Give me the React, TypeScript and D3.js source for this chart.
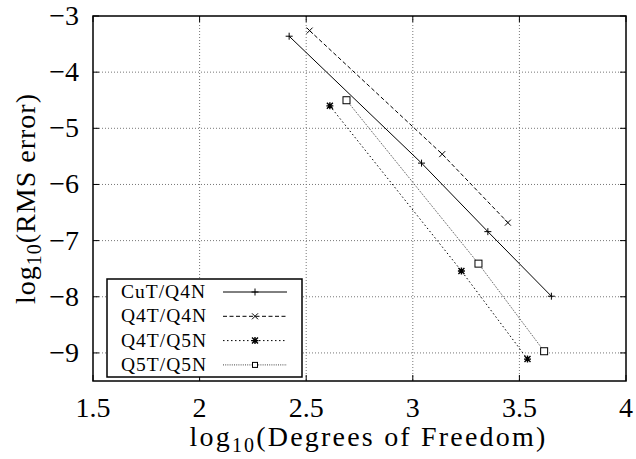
import React from "react";
import * as d3 from "d3";

// series: log10(DOF) vs log10(RMS error)
const seriesNames = ["CuT/Q4N", "Q4T/Q4N", "Q4T/Q5N", "Q5T/Q5N"];
const dofCuTQ4N = [2.42, 3.041, 3.352, 3.65];
const errCuTQ4N = [-3.36, -5.62, -6.84, -7.99];
const dofQ4TQ4N = [2.516, 3.138, 3.446];
const errQ4TQ4N = [-3.26, -5.46, -6.68];
const dofQ4TQ5N = [2.611, 3.228, 3.538];
const errQ4TQ5N = [-4.6, -7.54, -9.11];
const dofQ5TQ5N = [2.689, 3.308, 3.616];
const errQ5TQ5N = [-4.5, -7.41, -8.97];

const xTicks = [1.5, 2, 2.5, 3, 3.5, 4];
const yTicks = [-3, -4, -5, -6, -7, -8, -9];

const W = 636;
const H = 459;
const margin = { top: 16, right: 10, bottom: 78, left: 93 };
const FONT = "Liberation Serif, DejaVu Serif, serif";

type Pt = { x: number; y: number };
const zip = (xs: number[], ys: number[]): Pt[] => xs.map((x, i) => ({ x, y: ys[i] }));

const series = [
  { name: seriesNames[0], pts: zip(dofCuTQ4N, errCuTQ4N), dash: "none", color: "#000", marker: "plus" },
  { name: seriesNames[1], pts: zip(dofQ4TQ4N, errQ4TQ4N), dash: "4,2.5", color: "#000", marker: "cross" },
  { name: seriesNames[2], pts: zip(dofQ4TQ5N, errQ4TQ5N), dash: "1.5,2.5", color: "#000", marker: "star" },
  { name: seriesNames[3], pts: zip(dofQ5TQ5N, errQ5TQ5N), dash: "1,1.2", color: "#444", marker: "square" },
];

function Marker({ kind, x, y, sq = 7 }: { kind: string; x: number; y: number; sq?: number }) {
  const s = 3.5;
  const c = 3;
  if (kind === "plus")
    return <path d={`M${x - s},${y}H${x + s}M${x},${y - s}V${y + s}`} stroke="#000" strokeWidth={1} />;
  if (kind === "cross")
    return <path d={`M${x - c},${y - c}L${x + c},${y + c}M${x - c},${y + c}L${x + c},${y - c}`} stroke="#000" strokeWidth={1} />;
  if (kind === "star")
    return (
      <path
        d={`M${x - c},${y - c}L${x + c},${y + c}M${x - c},${y + c}L${x + c},${y - c}M${x - s},${y}H${x + s}M${x},${y - s}V${y + s}`}
        stroke="#000"
        strokeWidth={1.4}
      />
    );
  return <rect x={x - sq / 2} y={y - sq / 2} width={sq} height={sq} fill="#fff" stroke="#000" strokeWidth={1} />;
}

export default function App() {
  const x = d3.scaleLinear().domain([1.5, 4]).range([margin.left, W - margin.right]);
  const y = d3.scaleLinear().domain([-9.5, -3]).range([H - margin.bottom, margin.top]);
  const [x0, x1] = x.range();
  const [y0, y1] = y.range();

  const line = d3
    .line<Pt>()
    .x((d) => x(d.x))
    .y((d) => y(d.y));

  // legend placement
  const lg = { left: 107, top: 279, width: 195, height: 98 };
  const rowY = (i: number) => 292 + i * 24.3;
  const txt = { fontFamily: FONT };

  return (
    <svg width={W} height={H} style={{ position: "absolute", left: 0, top: 0, background: "#fff" }}>
      {/* grid */}
      <g stroke="#777" strokeWidth={1} strokeDasharray="1,2">
        {xTicks.slice(1, -1).map((t) => (
          <line key={"gx" + t} x1={x(t)} x2={x(t)} y1={y1} y2={y0} />
        ))}
        {yTicks.slice(1).map((t) => (
          <line key={"gy" + t} x1={x0} x2={x1} y1={y(t)} y2={y(t)} />
        ))}
      </g>

      {/* ticks */}
      <g stroke="#000" strokeWidth={1}>
        {xTicks.map((t) => (
          <g key={"tx" + t}>
            <line x1={x(t)} x2={x(t)} y1={y0} y2={y0 - 6} />
            <line x1={x(t)} x2={x(t)} y1={y1} y2={y1 + 6} />
          </g>
        ))}
        {yTicks.map((t) => (
          <g key={"ty" + t}>
            <line x1={x0} x2={x0 + 6} y1={y(t)} y2={y(t)} />
            <line x1={x1} x2={x1 - 6} y1={y(t)} y2={y(t)} />
          </g>
        ))}
      </g>

      {/* series */}
      {series.map((s) => (
        <g key={s.name}>
          <path d={line(s.pts) || ""} fill="none" stroke={s.color} strokeWidth={1} strokeDasharray={s.dash} />
          {s.pts.map((p, i) => (
            <Marker key={i} kind={s.marker} x={x(p.x)} y={y(p.y)} />
          ))}
        </g>
      ))}

      {/* frame */}
      <rect x={x0} y={y1} width={x1 - x0} height={y0 - y1} fill="none" stroke="#000" strokeWidth={1.5} />

      {/* tick labels */}
      <g fontSize={28} fill="#000">
        {xTicks.map((t) => (
          <text key={"lx" + t} x={x(t)} y={417} textAnchor="middle" style={txt}>
            {String(t)}
          </text>
        ))}
        {yTicks.map((t) => (
          <text key={"ly" + t} x={79} y={y(t) + 9} textAnchor="end" style={txt}>
            {"\u2212" + Math.abs(t)}
          </text>
        ))}
      </g>

      {/* axis titles */}
      <text x={(x0 + x1) / 2 + 9} y={446} textAnchor="middle" fontSize={28} letterSpacing={2.2} style={txt}>
        log
        <tspan fontSize={20} dy={6}>10</tspan>
        <tspan dy={-6}>(Degrees of Freedom)</tspan>
      </text>
      <text
        transform={`translate(35,${(y0 + y1) / 2}) rotate(-90)`}
        textAnchor="middle"
        fontSize={28}
        letterSpacing={1}
        style={txt}
      >
        log
        <tspan fontSize={20} dy={6}>10</tspan>
        <tspan dy={-6}>(RMS error)</tspan>
      </text>

      {/* legend */}
      <rect x={lg.left} y={lg.top} width={lg.width} height={lg.height} fill="#fff" stroke="#000" strokeWidth={1.5} />
      {series.map((s, i) => (
        <g key={"lg" + s.name}>
          <text x={121} y={rowY(i) + 6} fontSize={19.5} letterSpacing={1} style={txt}>
            {s.name}
          </text>
          <line x1={223} x2={287} y1={rowY(i)} y2={rowY(i)} stroke={s.color} strokeWidth={1} strokeDasharray={s.dash} />
          <Marker kind={s.marker} x={255} y={rowY(i)} sq={5} />
        </g>
      ))}
    </svg>
  );
}
